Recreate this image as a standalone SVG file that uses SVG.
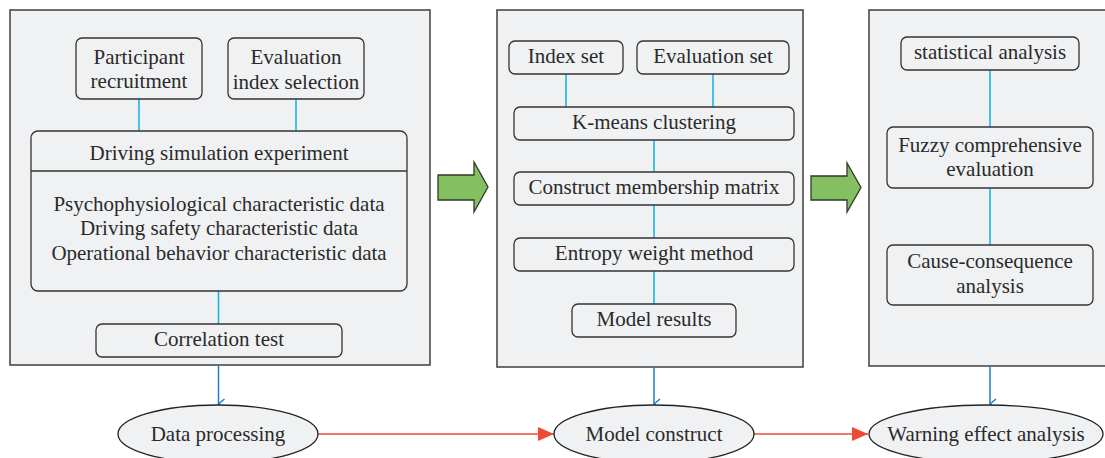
<svg xmlns="http://www.w3.org/2000/svg" width="1105" height="458" viewBox="0 0 1105 458">
<defs>
<style>
.panel{fill:#f0f1f3;stroke:#4a4a4a;stroke-width:1.6}
.box{fill:#f0f1f3;stroke:#333;stroke-width:1.3}
.ell{fill:#f0f1f3;stroke:#222;stroke-width:1.3}
.cy{stroke:#1cb4ea;stroke-width:1.6;fill:none}
.bl{stroke:#1a7ccc;stroke-width:1.5;fill:none}
.rd{stroke:#ec4a35;stroke-width:1.6;fill:none}
.gr{fill:#84bf62;stroke:#2f3a2a;stroke-width:1.3}
text{font-family:"Liberation Serif","Times New Roman",serif;font-size:21px;fill:#2a2a2a;text-anchor:middle}
</style>
<marker id="ob" markerWidth="12" markerHeight="10" refX="6" refY="8" orient="auto" markerUnits="userSpaceOnUse" viewBox="0 0 12 10">
<path d="M1,2 L6,8 L11,2" fill="none" stroke="#1a7ccc" stroke-width="1.5"/>
</marker>
<marker id="fr" markerWidth="16" markerHeight="14" refX="16" refY="7" orient="auto" markerUnits="userSpaceOnUse" viewBox="0 0 16 14">
<path d="M0,0 L16,7 L0,14 Z" fill="#ec4a35"/>
</marker>
</defs>

<g id="panel1"><rect class="panel" x="10" y="10" width="420" height="355"/></g>
<g id="panel2"><rect class="panel" x="497" y="10" width="306" height="357"/></g>
<g id="panel3"><rect class="panel" x="869" y="10" width="240" height="356"/></g>

<g id="connectors">
<line class="cy" x1="139" y1="99" x2="139" y2="131"/>
<line class="cy" x1="296" y1="99" x2="296" y2="131"/>
<line class="cy" x1="218.5" y1="291" x2="218.5" y2="324"/>
<line class="bl" x1="218.5" y1="365" x2="218.5" y2="404" marker-end="url(#ob)"/>
<line class="cy" x1="566" y1="74" x2="566" y2="107"/>
<line class="cy" x1="713" y1="74" x2="713" y2="107"/>
<line class="cy" x1="654" y1="140" x2="654" y2="172"/>
<line class="cy" x1="654" y1="205" x2="654" y2="238"/>
<line class="cy" x1="654" y1="271" x2="654" y2="304"/>
<line class="bl" x1="654" y1="367" x2="654" y2="404" marker-end="url(#ob)"/>
<line class="cy" x1="990" y1="70" x2="990" y2="127"/>
<line class="cy" x1="990" y1="188" x2="990" y2="245"/>
<line class="bl" x1="990" y1="366" x2="990" y2="404" marker-end="url(#ob)"/>
<line class="rd" x1="318" y1="434" x2="554" y2="434" marker-end="url(#fr)"/>
<line class="rd" x1="754" y1="434" x2="868" y2="434" marker-end="url(#fr)"/>
</g>

<g id="garrow1"><path class="gr" d="M438,175 L474,175 L474,162 L488,187 L474,212 L474,200 L438,200 Z"/></g>
<g id="garrow2"><path class="gr" d="M811,176 L847,176 L847,163 L861,187.5 L847,212 L847,200 L811,200 Z"/></g>

<g id="participant"><rect class="box" x="76" y="38" width="126" height="61" rx="6"/><text x="139" y="64">Participant</text><text x="139" y="88">recruitment</text></g>
<g id="evalindex"><rect class="box" x="228" y="38" width="136" height="61" rx="6"/><text x="296" y="64">Evaluation</text><text x="296" y="89">index selection</text></g>
<g id="driving"><rect class="box" x="31" y="131" width="376" height="160" rx="7"/><line x1="31" y1="171" x2="407" y2="171" stroke="#333" stroke-width="1.3"/>
<text x="219" y="160">Driving simulation experiment</text>
<text x="219" y="211">Psychophysiological characteristic data</text>
<text x="219" y="235">Driving safety characteristic data</text>
<text x="219" y="260">Operational behavior characteristic data</text></g>
<g id="correlation"><rect class="box" x="96" y="324" width="246" height="33" rx="6"/><text x="219" y="346">Correlation test</text></g>
<g id="dataproc"><ellipse class="ell" cx="218" cy="434" rx="100" ry="29"/><text x="218" y="441">Data processing</text></g>

<g id="indexset"><rect class="box" x="509" y="41" width="114" height="33" rx="6"/><text x="566" y="63">Index set</text></g>
<g id="evalset"><rect class="box" x="637" y="41" width="152" height="33" rx="6"/><text x="713" y="63">Evaluation set</text></g>
<g id="kmeans"><rect class="box" x="514" y="107" width="280" height="33" rx="6"/><text x="654" y="129">K-means clustering</text></g>
<g id="membership"><rect class="box" x="514" y="172" width="280" height="33" rx="6"/><text x="654" y="194">Construct membership matrix</text></g>
<g id="entropy"><rect class="box" x="514" y="238" width="280" height="33" rx="6"/><text x="654" y="260">Entropy weight method</text></g>
<g id="modelres"><rect class="box" x="572" y="304" width="164" height="33" rx="6"/><text x="654" y="326">Model results</text></g>
<g id="modelcon"><ellipse class="ell" cx="654" cy="434" rx="100" ry="29"/><text x="654" y="441">Model construct</text></g>

<g id="statistical"><rect class="box" x="901" y="37" width="178" height="33" rx="6"/><text x="990" y="59">statistical analysis</text></g>
<g id="fuzzy"><rect class="box" x="887" y="127" width="206" height="61" rx="6"/><text x="990" y="152">Fuzzy comprehensive</text><text x="990" y="176">evaluation</text></g>
<g id="cause"><rect class="box" x="887" y="245" width="206" height="60" rx="6"/><text x="990" y="268">Cause-consequence</text><text x="990" y="293">analysis</text></g>
<g id="warning"><ellipse class="ell" cx="986" cy="434" rx="117" ry="29"/><text x="986" y="441">Warning effect analysis</text></g>
</svg>
